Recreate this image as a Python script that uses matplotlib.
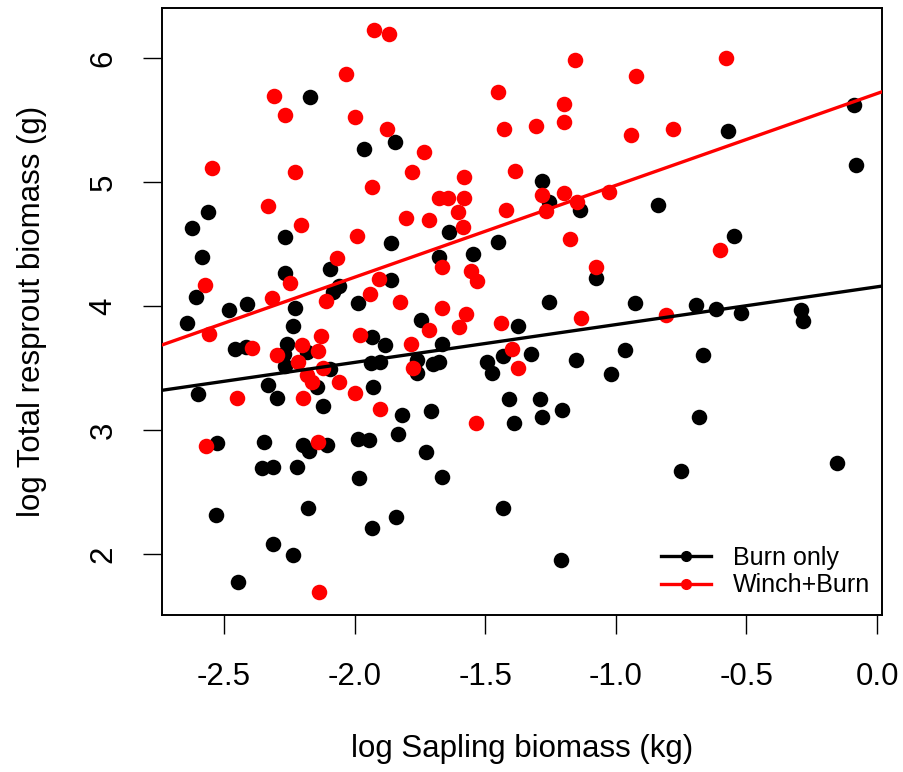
import numpy as np
import matplotlib
matplotlib.use("Agg")
import matplotlib.pyplot as plt
from matplotlib.lines import Line2D

plt.rcParams['font.family'] = ['Liberation Sans', 'DejaVu Sans']
plt.rcParams['axes.unicode_minus'] = False

# Burn only (black)
burn_x = [-2.172, -1.964, -1.844, -2.561, -2.624, -2.582, -2.266, -2.266, -2.094, -2.060,
          -2.082, -1.861, -1.862, -2.605, -2.413, -2.480, -2.228, -2.643, -2.235, -1.986,
          -2.458, -2.416, -2.260, -2.269, -2.183, -2.266, -2.094, -1.935, -1.884, -1.938,
          -1.903, -2.333, -2.601, -2.298, -2.145, -1.928, -2.120, -1.817, -1.833, -2.528,
          -2.346, -2.196, -2.175, -2.107, -1.988, -1.945, -2.356, -2.311, -2.219, -1.982,
          -2.531, -2.180, -1.843, -1.932, -2.314, -2.235, -2.445, -1.281, -1.255, -1.137,
          -1.639, -1.450, -1.676, -1.548, -1.077, -1.256, -0.926, -1.747, -1.373, -1.664,
          -1.762, -1.762, -1.701, -1.676, -1.492, -1.473, -1.431, -1.325, -1.154, -0.965,
          -1.018, -1.408, -1.290, -1.706, -1.205, -1.728, -1.667, -1.433, -1.211, -1.389,
          -1.284, -0.087, -0.569, -0.080, -0.837, -0.546, -0.693, -0.616, -0.521, -0.292,
          -0.282, -0.665, -0.681, -0.750, -0.154]
burn_y = [5.688, 5.269, 5.320, 4.758, 4.627, 4.398, 4.554, 4.269, 4.296, 4.161,
          4.115, 4.510, 4.210, 4.070, 4.016, 3.968, 3.986, 3.860, 3.839, 4.027,
          3.653, 3.672, 3.691, 3.613, 3.631, 3.519, 3.490, 3.752, 3.685, 3.538,
          3.551, 3.363, 3.288, 3.256, 3.344, 3.344, 3.194, 3.121, 2.968, 2.898,
          2.901, 2.879, 2.833, 2.879, 2.925, 2.919, 2.691, 2.704, 2.699, 2.615,
          2.317, 2.373, 2.301, 2.207, 2.078, 1.992, 1.777, 5.008, 4.841, 4.774,
          4.594, 4.519, 4.398, 4.417, 4.228, 4.035, 4.027, 3.887, 3.841, 3.694,
          3.565, 3.457, 3.532, 3.546, 3.546, 3.462, 3.599, 3.613, 3.565, 3.645,
          3.452, 3.250, 3.250, 3.157, 3.165, 2.820, 2.623, 2.373, 1.952, 3.054,
          3.102, 5.621, 5.411, 5.140, 4.815, 4.565, 4.008, 3.973, 3.946, 3.968,
          3.882, 3.605, 3.102, 2.672, 2.736]

# Winch+Burn (red)
winch_x = [-1.925, -1.868, -2.034, -2.309, -2.265, -1.998, -1.877, -2.547, -2.228, -1.935,
           -2.333, -2.205, -1.992, -2.069, -2.573, -2.247, -2.317, -2.111, -1.907, -1.941,
           -1.826, -2.556, -2.394, -2.129, -2.203, -2.139, -2.296, -2.216, -2.120, -2.183,
           -2.164, -2.060, -1.998, -2.451, -2.196, -1.979, -1.903, -2.569, -2.141, -2.135,
           -1.156, -0.924, -1.450, -1.197, -1.198, -1.427, -1.307, -0.942, -1.733, -1.781,
           -1.386, -1.581, -1.676, -1.644, -1.581, -1.284, -1.197, -1.147, -1.026, -1.603,
           -1.422, -1.803, -1.714, -1.586, -1.268, -1.175, -1.664, -1.556, -1.533, -1.077,
           -1.667, -1.574, -1.714, -1.599, -1.441, -1.134, -1.784, -1.399, -1.376, -1.775,
           -1.536, -0.782, -0.579, -0.601, -0.809]
winch_y = [6.226, 6.191, 5.871, 5.694, 5.538, 5.522, 5.425, 5.110, 5.083, 4.957,
           4.806, 4.653, 4.567, 4.390, 4.169, 4.183, 4.062, 4.043, 4.218, 4.094,
           4.035, 3.772, 3.659, 3.758, 3.685, 3.640, 3.605, 3.546, 3.498, 3.444,
           3.390, 3.390, 3.301, 3.260, 3.260, 3.766, 3.169, 2.871, 2.901, 1.691,
           5.984, 5.855, 5.728, 5.627, 5.486, 5.430, 5.454, 5.381, 5.240, 5.078,
           5.089, 5.038, 4.873, 4.873, 4.873, 4.895, 4.909, 4.841, 4.922, 4.760,
           4.774, 4.712, 4.694, 4.640, 4.766, 4.538, 4.317, 4.282, 4.204, 4.317,
           3.986, 3.935, 3.806, 3.833, 3.860, 3.901, 3.691, 3.653, 3.498, 3.498,
           3.054, 5.430, 6.000, 4.452, 3.927]

# fitted lines: (intercept, slope)
burn_fit = (4.155, 0.305)
winch_fit = (5.714, 0.741)

labels = ["Burn only", "Winch+Burn"]
colors = ["black", "red"]

fig = plt.figure(figsize=(9.04, 7.72), dpi=100)
ax = fig.add_axes([0.1789, 0.2034, 0.7968, 0.7866])

ax.scatter(burn_x, burn_y, s=125, c=colors[0], linewidths=0, zorder=2)
ax.scatter(winch_x, winch_y, s=125, c=colors[1], linewidths=0, zorder=2)

for (b0, b1), col in zip([burn_fit, winch_fit], colors):
    ax.axline((0, b0), slope=b1, color=col, lw=2.4, zorder=3)

ax.set_xlim(-2.738, 0.019)
ax.set_ylim(1.508, 6.406)
xt = [-2.5, -2.0, -1.5, -1.0, -0.5, 0.0]
ax.set_xticks(xt)
ax.set_xticklabels(["%.1f" % v for v in xt])
ax.set_yticks([2, 3, 4, 5, 6])
for lab in ax.get_yticklabels():
    lab.set_rotation(90)
    lab.set_va('center')
ax.tick_params(direction='out', length=14, width=1.0, labelsize=22.5, pad=17)
ax.tick_params(axis='x', pad=20)
for sp in ax.spines.values():
    sp.set_linewidth(1.4)

ax.set_xlabel("log Sapling biomass (kg)", fontsize=22.5, labelpad=30)
ax.set_ylabel("log Total resprout biomass (g)", fontsize=22.5, labelpad=30)

handles = [Line2D([], [], color=c, lw=2.4, marker='o', markersize=7) for c in colors]
ax.legend(handles, labels, loc='lower right', bbox_to_anchor=(1.008, 0.0),
          frameon=False, fontsize=18, handlelength=2.0, handletextpad=0.9,
          labelspacing=0.15, borderaxespad=0.3)

fig.savefig("out.png", dpi=100)
